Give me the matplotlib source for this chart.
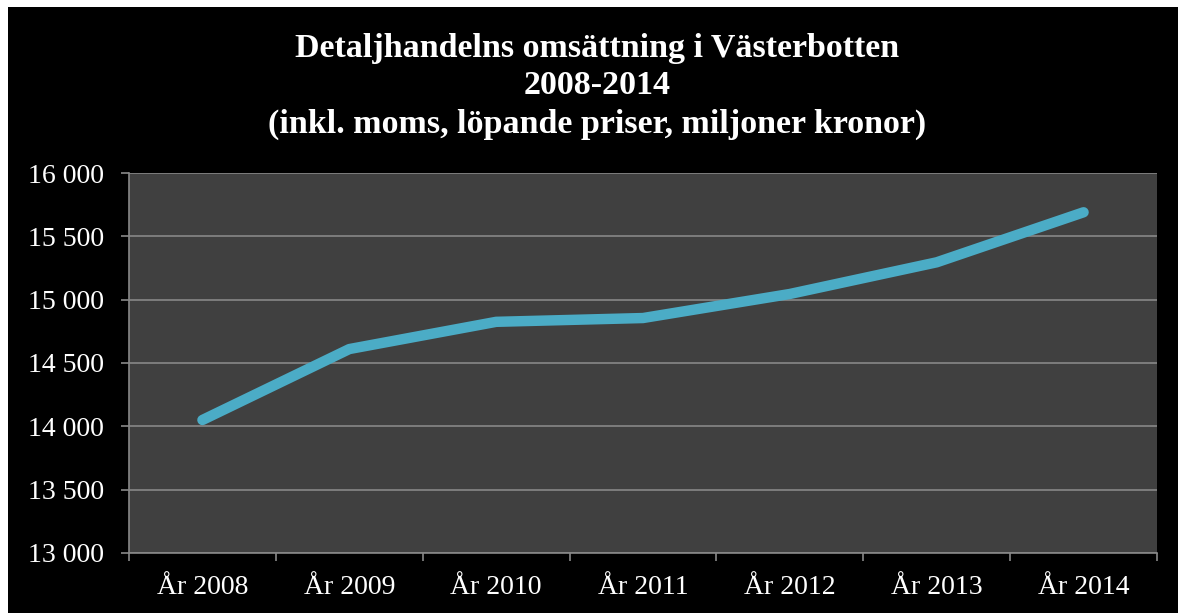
import matplotlib.pyplot as plt
from matplotlib.patches import Rectangle
from matplotlib.ticker import FuncFormatter

# data
years = ['År 2008', 'År 2009', 'År 2010', 'År 2011', 'År 2012', 'År 2013', 'År 2014']
omsattning = [14050, 14610, 14825, 14855, 15045, 15295, 15690]

title_lines = ['Detaljhandelns omsättning i Västerbotten',
               '2008-2014',
               '(inkl. moms, löpande priser, miljoner kronor)']

plt.rcParams['font.family'] = ['Liberation Serif', 'DejaVu Serif']

fig = plt.figure(figsize=(11.78, 6.13), dpi=100, facecolor='white')
# black chart area with thin white border on top/left
fig.patches.append(Rectangle((8 / 1178, 0), 1 - 8 / 1178, 1 - 7 / 613,
                             transform=fig.transFigure, facecolor='black',
                             edgecolor='none', zorder=-10))

ax = fig.add_axes([129 / 1178, 60 / 613, 1028 / 1178, 380 / 613])
ax.set_facecolor('#404040')

x = list(range(len(years)))
ax.plot(x, omsattning, color='#4BACC6', linewidth=7.5, solid_capstyle='round',
        solid_joinstyle='round', zorder=3)

ax.set_xlim(-0.5, len(years) - 0.5)
ax.set_ylim(13000, 16000)
ax.set_yticks(range(13000, 16001, 500))
ax.yaxis.set_major_formatter(FuncFormatter(lambda v, p: f'{int(v):,}'.replace(',', ' ')))

ax.set_xticks(x)
ax.set_xticklabels(years)
ax.set_xticks([i - 0.5 for i in range(len(years) + 1)], minor=True)

grid_c = '#888888'
ax.grid(axis='y', color=grid_c, linewidth=1.2, zorder=1)
ax.set_axisbelow(True)
for side in ['top', 'right']:
    ax.spines[side].set_visible(False)
for side in ['left', 'bottom']:
    ax.spines[side].set_color(grid_c)
    ax.spines[side].set_linewidth(1.2)

ax.tick_params(axis='y', colors=grid_c, labelcolor='white', labelsize=20,
               length=6, width=1.2, pad=12)
ax.tick_params(axis='x', which='major', length=0, labelcolor='white',
               labelsize=20, pad=16)
ax.tick_params(axis='x', which='minor', colors=grid_c, length=6, width=1.2)

for line, y in zip(title_lines, [48, 86, 124]):
    fig.text(597 / 1178, 1 - y / 613, line, color='white', fontsize=24.5,
             fontweight='bold', ha='center', va='center')

plt.savefig('out.png', dpi=100, facecolor=fig.get_facecolor())
